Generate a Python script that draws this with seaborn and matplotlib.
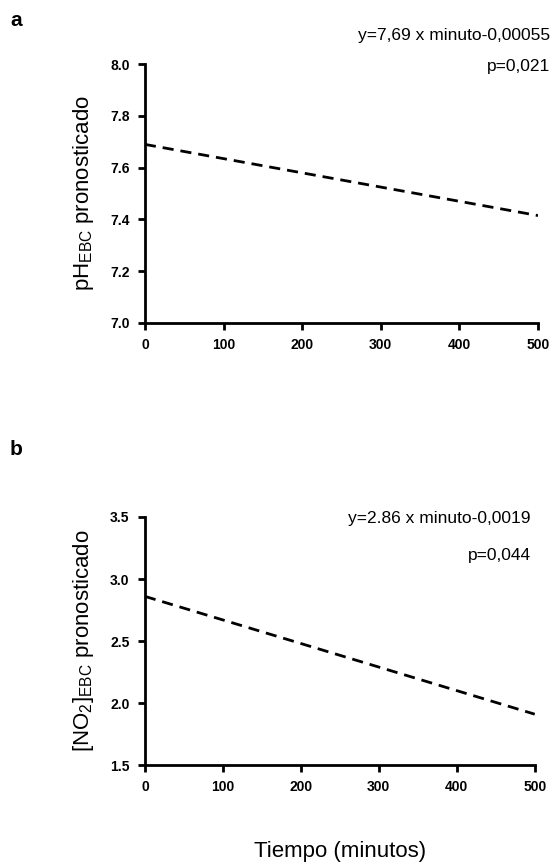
"""
Predicted pH and NO2 in EBC vs time (two stacked panels)
"""

import numpy as np
import pandas as pd
import matplotlib
matplotlib.use("Agg")
import matplotlib.pyplot as plt
import seaborn as sns

# ── data ─────────────────────────────────────────────────────────
minutes   = [0, 500]
ph_pred   = [7.69, 7.415]
no2_pred  = [2.86, 1.91]

x_ticks    = [0, 100, 200, 300, 400, 500]
ph_ticks   = [7.0, 7.2, 7.4, 7.6, 7.8, 8.0]
no2_ticks  = [1.5, 2.0, 2.5, 3.0, 3.5]

ph_eq   = "y=7,69 x minuto-0,00055"
ph_p    = "p=0,021"
no2_eq  = "y=2.86 x minuto-0,0019"
no2_p   = "p=0,044"

# ── style ────────────────────────────────────────────────────────
sns.set_style("ticks")
plt.rcParams["font.family"] = ["Liberation Sans", "DejaVu Sans"]
plt.rcParams["mathtext.fontset"] = "custom"
plt.rcParams["mathtext.rm"] = "Liberation Sans"
plt.rcParams["mathtext.it"] = "Liberation Sans:italic"
plt.rcParams["mathtext.bf"] = "Liberation Sans:bold"
plt.rcParams["text.color"] = "black"
plt.rcParams["axes.labelcolor"] = "black"
plt.rcParams["xtick.color"] = "black"
plt.rcParams["ytick.color"] = "black"

fig = plt.figure(figsize=(5.53, 8.67), dpi=100)
ax_a = fig.add_axes([0.262, 0.6275, 0.711, 0.2985])
ax_b = fig.add_axes([0.262, 0.1176, 0.705, 0.2861])

df_a = pd.DataFrame({"min": minutes, "val": ph_pred})
df_b = pd.DataFrame({"min": minutes, "val": no2_pred})


def style_axis(ax, yticks, ylabel):
    ax.set_xlim(x_ticks[0], x_ticks[-1])
    ax.set_ylim(yticks[0], yticks[-1])
    ax.set_xticks(x_ticks)
    ax.set_yticks(yticks)
    ax.set_xticklabels([str(t) for t in x_ticks], fontweight="bold", fontsize=10)
    ax.set_yticklabels([f"{t:.1f}" for t in yticks], fontweight="bold", fontsize=10)
    sns.despine(ax=ax)
    for s in ("left", "bottom"):
        ax.spines[s].set_linewidth(2)
        ax.spines[s].set_color("black")
    ax.tick_params(width=2, length=5, color="black", pad=6)
    ax.set_xlabel("")
    ax.set_ylabel(ylabel, fontsize=16, labelpad=10)
    ax.patch.set_alpha(0)
    for sp in ax.spines.values():
        sp.set_clip_on(False)


# ── panel a ──────────────────────────────────────────────────────
sns.lineplot(data=df_a, x="min", y="val", ax=ax_a, color="black",
             linewidth=2, linestyle=(0, (4, 2.5)))
style_axis(ax_a, ph_ticks, r"pH$_{\mathrm{EBC}}$ pronosticado")
ax_a.text(1.03, 1.11, ph_eq, transform=ax_a.transAxes, ha="right",
          va="center", fontsize=12.5)
ax_a.text(1.03, 0.99, ph_p, transform=ax_a.transAxes, ha="right",
          va="center", fontsize=12.5)

# ── panel b ──────────────────────────────────────────────────────
sns.lineplot(data=df_b, x="min", y="val", ax=ax_b, color="black",
             linewidth=2, linestyle=(0, (4, 2.5)))
style_axis(ax_b, no2_ticks, r"[NO$_2$]$_{\mathrm{EBC}}$ pronosticado")
ax_b.text(0.99, 0.995, no2_eq, transform=ax_b.transAxes, ha="right",
          va="center", fontsize=12.5)
ax_b.text(0.99, 0.845, no2_p, transform=ax_b.transAxes, ha="right",
          va="center", fontsize=12.5)

fig.text(340 / 553, 1 - 852 / 867, "Tiempo (minutos)", ha="center",
         va="center", fontsize=16)

fig.text(10 / 553, 1 - 20 / 867, "a", fontweight="bold", fontsize=15,
         ha="left", va="center")
fig.text(10 / 553, 1 - 450 / 867, "b", fontweight="bold", fontsize=15,
         ha="left", va="center")

fig.savefig("out.png", dpi=100)
